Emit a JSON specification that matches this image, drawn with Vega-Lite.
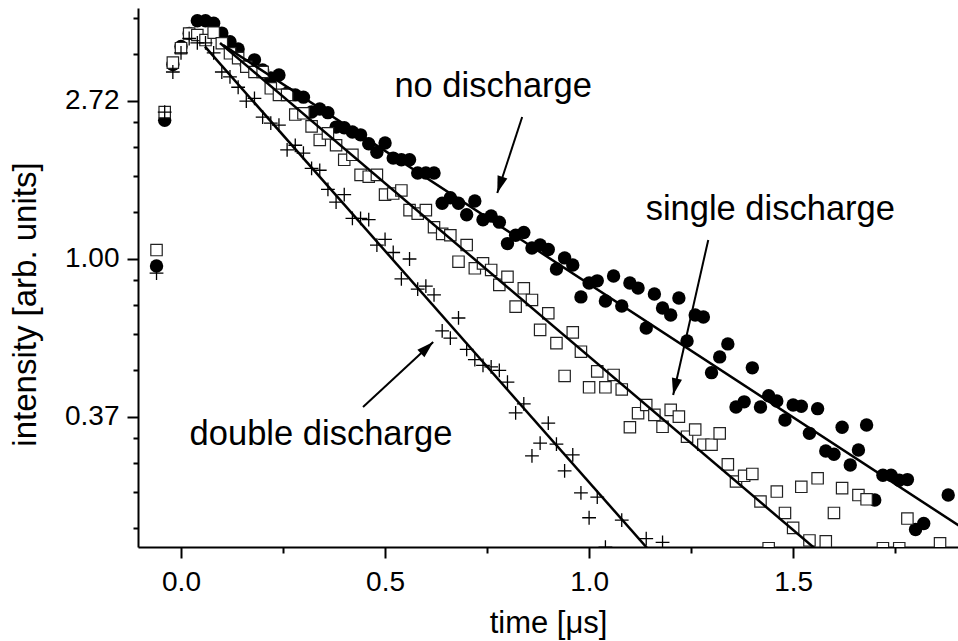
{
  "$schema": "https://vega.github.io/schema/vega-lite/v6.json",
  "width": 820,
  "height": 539,
  "autosize": {"type": "none"},
  "padding": {"left": 138, "top": 8, "right": 0, "bottom": 94},
  "background": "white",
  "config": {"view": {"stroke": null}, "font": "Liberation Sans"},
  "datasets": {
    "points": [
      {"s": "none", "t": -0.06, "I": 0.955}, {"s": "none", "t": -0.04, "I": 2.40}, {"s": "none", "t": -0.02, "I": 3.42},
      {"s": "none", "t": 0.00, "I": 3.83}, {"s": "none", "t": 0.02, "I": 4.16}, {"s": "none", "t": 0.04, "I": 4.51},
      {"s": "none", "t": 0.06, "I": 4.51}, {"s": "none", "t": 0.08, "I": 4.44}, {"s": "none", "t": 0.10, "I": 4.17},
      {"s": "none", "t": 0.12, "I": 3.95}, {"s": "none", "t": 0.14, "I": 3.77}, {"s": "none", "t": 0.16, "I": 3.40},
      {"s": "none", "t": 0.18, "I": 3.52}, {"s": "none", "t": 0.20, "I": 3.30}, {"s": "none", "t": 0.22, "I": 3.14},
      {"s": "none", "t": 0.24, "I": 3.20}, {"s": "none", "t": 0.26, "I": 2.85}, {"s": "none", "t": 0.28, "I": 2.82},
      {"s": "none", "t": 0.30, "I": 2.78}, {"s": "none", "t": 0.32, "I": 2.53}, {"s": "none", "t": 0.34, "I": 2.58},
      {"s": "none", "t": 0.36, "I": 2.52}, {"s": "none", "t": 0.38, "I": 2.30}, {"s": "none", "t": 0.40, "I": 2.29},
      {"s": "none", "t": 0.42, "I": 2.23}, {"s": "none", "t": 0.44, "I": 2.19}, {"s": "none", "t": 0.46, "I": 2.07},
      {"s": "none", "t": 0.48, "I": 1.96}, {"s": "none", "t": 0.50, "I": 2.08}, {"s": "none", "t": 0.52, "I": 1.89},
      {"s": "none", "t": 0.54, "I": 1.87}, {"s": "none", "t": 0.56, "I": 1.87}, {"s": "none", "t": 0.58, "I": 1.72},
      {"s": "none", "t": 0.60, "I": 1.72}, {"s": "none", "t": 0.62, "I": 1.72}, {"s": "none", "t": 0.64, "I": 1.42},
      {"s": "none", "t": 0.66, "I": 1.47}, {"s": "none", "t": 0.68, "I": 1.42}, {"s": "none", "t": 0.70, "I": 1.32},
      {"s": "none", "t": 0.72, "I": 1.44}, {"s": "none", "t": 0.74, "I": 1.28}, {"s": "none", "t": 0.76, "I": 1.31},
      {"s": "none", "t": 0.78, "I": 1.26}, {"s": "none", "t": 0.80, "I": 1.10}, {"s": "none", "t": 0.82, "I": 1.16},
      {"s": "none", "t": 0.84, "I": 1.18}, {"s": "none", "t": 0.86, "I": 1.07}, {"s": "none", "t": 0.88, "I": 1.09},
      {"s": "none", "t": 0.90, "I": 1.06}, {"s": "none", "t": 0.92, "I": 0.937}, {"s": "none", "t": 0.94, "I": 1.005},
      {"s": "none", "t": 0.96, "I": 0.961}, {"s": "none", "t": 0.98, "I": 0.785}, {"s": "none", "t": 1.00, "I": 0.857},
      {"s": "none", "t": 1.02, "I": 0.869}, {"s": "none", "t": 1.04, "I": 0.765}, {"s": "none", "t": 1.06, "I": 0.896},
      {"s": "none", "t": 1.08, "I": 0.741}, {"s": "none", "t": 1.10, "I": 0.857}, {"s": "none", "t": 1.12, "I": 0.830},
      {"s": "none", "t": 1.14, "I": 0.645}, {"s": "none", "t": 1.16, "I": 0.800}, {"s": "none", "t": 1.18, "I": 0.732},
      {"s": "none", "t": 1.20, "I": 0.700}, {"s": "none", "t": 1.22, "I": 0.780}, {"s": "none", "t": 1.24, "I": 0.594},
      {"s": "none", "t": 1.26, "I": 0.700}, {"s": "none", "t": 1.28, "I": 0.691}, {"s": "none", "t": 1.30, "I": 0.486},
      {"s": "none", "t": 1.32, "I": 0.537}, {"s": "none", "t": 1.34, "I": 0.583}, {"s": "none", "t": 1.36, "I": 0.391},
      {"s": "none", "t": 1.38, "I": 0.404}, {"s": "none", "t": 1.40, "I": 0.501}, {"s": "none", "t": 1.42, "I": 0.391},
      {"s": "none", "t": 1.44, "I": 0.420}, {"s": "none", "t": 1.46, "I": 0.406}, {"s": "none", "t": 1.48, "I": 0.360},
      {"s": "none", "t": 1.50, "I": 0.396}, {"s": "none", "t": 1.52, "I": 0.393}, {"s": "none", "t": 1.54, "I": 0.331},
      {"s": "none", "t": 1.56, "I": 0.387}, {"s": "none", "t": 1.58, "I": 0.296}, {"s": "none", "t": 1.60, "I": 0.290},
      {"s": "none", "t": 1.62, "I": 0.344}, {"s": "none", "t": 1.64, "I": 0.271}, {"s": "none", "t": 1.66, "I": 0.298},
      {"s": "none", "t": 1.68, "I": 0.349}, {"s": "none", "t": 1.70, "I": 0.217}, {"s": "none", "t": 1.72, "I": 0.254},
      {"s": "none", "t": 1.74, "I": 0.254}, {"s": "none", "t": 1.76, "I": 0.246}, {"s": "none", "t": 1.78, "I": 0.247},
      {"s": "none", "t": 1.80, "I": 0.180}, {"s": "none", "t": 1.82, "I": 0.187}, {"s": "none", "t": 1.88, "I": 0.224},

      {"s": "single", "t": -0.06, "I": 1.056}, {"s": "single", "t": -0.04, "I": 2.53}, {"s": "single", "t": -0.02, "I": 3.46},
      {"s": "single", "t": 0.00, "I": 3.79}, {"s": "single", "t": 0.02, "I": 4.16}, {"s": "single", "t": 0.04, "I": 4.12},
      {"s": "single", "t": 0.06, "I": 3.99}, {"s": "single", "t": 0.08, "I": 4.18}, {"s": "single", "t": 0.10, "I": 3.91},
      {"s": "single", "t": 0.12, "I": 3.67}, {"s": "single", "t": 0.14, "I": 3.56}, {"s": "single", "t": 0.16, "I": 3.37},
      {"s": "single", "t": 0.18, "I": 3.26}, {"s": "single", "t": 0.20, "I": 3.26}, {"s": "single", "t": 0.22, "I": 2.94},
      {"s": "single", "t": 0.24, "I": 2.82}, {"s": "single", "t": 0.26, "I": 2.82}, {"s": "single", "t": 0.28, "I": 2.49},
      {"s": "single", "t": 0.30, "I": 2.51}, {"s": "single", "t": 0.32, "I": 2.31}, {"s": "single", "t": 0.34, "I": 2.12},
      {"s": "single", "t": 0.36, "I": 2.21}, {"s": "single", "t": 0.38, "I": 2.05}, {"s": "single", "t": 0.40, "I": 1.87},
      {"s": "single", "t": 0.42, "I": 1.93}, {"s": "single", "t": 0.44, "I": 1.70}, {"s": "single", "t": 0.46, "I": 1.68},
      {"s": "single", "t": 0.48, "I": 1.70}, {"s": "single", "t": 0.50, "I": 1.50}, {"s": "single", "t": 0.52, "I": 1.51},
      {"s": "single", "t": 0.54, "I": 1.54}, {"s": "single", "t": 0.56, "I": 1.36}, {"s": "single", "t": 0.58, "I": 1.33},
      {"s": "single", "t": 0.60, "I": 1.36}, {"s": "single", "t": 0.62, "I": 1.22}, {"s": "single", "t": 0.64, "I": 1.17},
      {"s": "single", "t": 0.66, "I": 1.16}, {"s": "single", "t": 0.68, "I": 0.981}, {"s": "single", "t": 0.70, "I": 1.09},
      {"s": "single", "t": 0.72, "I": 0.941}, {"s": "single", "t": 0.74, "I": 0.971}, {"s": "single", "t": 0.76, "I": 0.931},
      {"s": "single", "t": 0.78, "I": 0.847}, {"s": "single", "t": 0.80, "I": 0.892}, {"s": "single", "t": 0.82, "I": 0.738},
      {"s": "single", "t": 0.84, "I": 0.829}, {"s": "single", "t": 0.86, "I": 0.770}, {"s": "single", "t": 0.88, "I": 0.637},
      {"s": "single", "t": 0.90, "I": 0.708}, {"s": "single", "t": 0.92, "I": 0.586}, {"s": "single", "t": 0.94, "I": 0.476},
      {"s": "single", "t": 0.96, "I": 0.627}, {"s": "single", "t": 0.98, "I": 0.555}, {"s": "single", "t": 1.00, "I": 0.443},
      {"s": "single", "t": 1.02, "I": 0.490}, {"s": "single", "t": 1.04, "I": 0.443}, {"s": "single", "t": 1.06, "I": 0.479},
      {"s": "single", "t": 1.08, "I": 0.437}, {"s": "single", "t": 1.10, "I": 0.344}, {"s": "single", "t": 1.12, "I": 0.376},
      {"s": "single", "t": 1.14, "I": 0.396}, {"s": "single", "t": 1.16, "I": 0.372}, {"s": "single", "t": 1.18, "I": 0.345},
      {"s": "single", "t": 1.20, "I": 0.384}, {"s": "single", "t": 1.22, "I": 0.368}, {"s": "single", "t": 1.24, "I": 0.324},
      {"s": "single", "t": 1.26, "I": 0.339}, {"s": "single", "t": 1.28, "I": 0.308}, {"s": "single", "t": 1.30, "I": 0.308},
      {"s": "single", "t": 1.32, "I": 0.331}, {"s": "single", "t": 1.34, "I": 0.272}, {"s": "single", "t": 1.36, "I": 0.244},
      {"s": "single", "t": 1.38, "I": 0.253}, {"s": "single", "t": 1.40, "I": 0.256}, {"s": "single", "t": 1.42, "I": 0.215},
      {"s": "single", "t": 1.44, "I": 0.160}, {"s": "single", "t": 1.46, "I": 0.229}, {"s": "single", "t": 1.48, "I": 0.200},
      {"s": "single", "t": 1.50, "I": 0.182}, {"s": "single", "t": 1.52, "I": 0.236}, {"s": "single", "t": 1.54, "I": 0.168},
      {"s": "single", "t": 1.56, "I": 0.249}, {"s": "single", "t": 1.58, "I": 0.167}, {"s": "single", "t": 1.60, "I": 0.200},
      {"s": "single", "t": 1.62, "I": 0.234}, {"s": "single", "t": 1.66, "I": 0.224}, {"s": "single", "t": 1.68, "I": 0.218},
      {"s": "single", "t": 1.72, "I": 0.160}, {"s": "single", "t": 1.76, "I": 0.160}, {"s": "single", "t": 1.78, "I": 0.193},
      {"s": "single", "t": 1.86, "I": 0.165},

      {"s": "double", "t": -0.06, "I": 0.913}, {"s": "double", "t": -0.04, "I": 2.53}, {"s": "double", "t": -0.02, "I": 3.26},
      {"s": "double", "t": 0.00, "I": 3.68}, {"s": "double", "t": 0.02, "I": 4.03}, {"s": "double", "t": 0.04, "I": 3.92},
      {"s": "double", "t": 0.06, "I": 3.92}, {"s": "double", "t": 0.08, "I": 3.68}, {"s": "double", "t": 0.10, "I": 3.26},
      {"s": "double", "t": 0.12, "I": 3.16}, {"s": "double", "t": 0.14, "I": 2.96}, {"s": "double", "t": 0.16, "I": 2.71},
      {"s": "double", "t": 0.18, "I": 2.76}, {"s": "double", "t": 0.20, "I": 2.45}, {"s": "double", "t": 0.22, "I": 2.36},
      {"s": "double", "t": 0.24, "I": 2.33}, {"s": "double", "t": 0.26, "I": 1.99}, {"s": "double", "t": 0.28, "I": 2.05},
      {"s": "double", "t": 0.30, "I": 1.95}, {"s": "double", "t": 0.32, "I": 1.77}, {"s": "double", "t": 0.34, "I": 1.75},
      {"s": "double", "t": 0.36, "I": 1.55}, {"s": "double", "t": 0.38, "I": 1.43}, {"s": "double", "t": 0.40, "I": 1.50},
      {"s": "double", "t": 0.42, "I": 1.29}, {"s": "double", "t": 0.44, "I": 1.29}, {"s": "double", "t": 0.46, "I": 1.28},
      {"s": "double", "t": 0.48, "I": 1.09}, {"s": "double", "t": 0.50, "I": 1.13}, {"s": "double", "t": 0.52, "I": 1.04},
      {"s": "double", "t": 0.54, "I": 0.880}, {"s": "double", "t": 0.56, "I": 0.998}, {"s": "double", "t": 0.58, "I": 0.825},
      {"s": "double", "t": 0.60, "I": 0.841}, {"s": "double", "t": 0.62, "I": 0.795}, {"s": "double", "t": 0.64, "I": 0.633},
      {"s": "double", "t": 0.66, "I": 0.605}, {"s": "double", "t": 0.68, "I": 0.687}, {"s": "double", "t": 0.70, "I": 0.563},
      {"s": "double", "t": 0.72, "I": 0.528}, {"s": "double", "t": 0.74, "I": 0.509}, {"s": "double", "t": 0.76, "I": 0.504},
      {"s": "double", "t": 0.78, "I": 0.493}, {"s": "double", "t": 0.80, "I": 0.458}, {"s": "double", "t": 0.82, "I": 0.377},
      {"s": "double", "t": 0.84, "I": 0.399}, {"s": "double", "t": 0.86, "I": 0.287}, {"s": "double", "t": 0.88, "I": 0.311},
      {"s": "double", "t": 0.90, "I": 0.353}, {"s": "double", "t": 0.92, "I": 0.309}, {"s": "double", "t": 0.94, "I": 0.261},
      {"s": "double", "t": 0.96, "I": 0.289}, {"s": "double", "t": 0.98, "I": 0.227}, {"s": "double", "t": 1.00, "I": 0.194},
      {"s": "double", "t": 1.02, "I": 0.221}, {"s": "double", "t": 1.04, "I": 0.161}, {"s": "double", "t": 1.08, "I": 0.191},
      {"s": "double", "t": 1.14, "I": 0.170}, {"s": "double", "t": 1.18, "I": 0.166}
    ],
    "fits": [
      {"s": "none", "t": 0.103, "I": 3.867}, {"s": "none", "t": 1.93, "I": 0.1773},
      {"s": "single", "t": 0.0956, "I": 3.916}, {"s": "single", "t": 1.56, "I": 0.1574},
      {"s": "double", "t": 0.0588, "I": 3.826}, {"s": "double", "t": 1.15, "I": 0.1565}
    ],
    "arrows": [
      {"name": "none", "t": 0.836, "I": 2.452, "t2": 0.775, "I2": 1.516},
      {"name": "single", "t": 1.292, "I": 1.126, "t2": 1.206, "I2": 0.422},
      {"name": "double", "t": 0.446, "I": 0.391, "t2": 0.618, "I2": 0.590}
    ],
    "labels": [
      {"label": "no discharge", "t": 0.765, "I": 2.964},
      {"label": "single discharge", "t": 1.444, "I": 1.361},
      {"label": "double discharge", "t": 0.343, "I": 0.3276}
    ]
  },
  "encoding": {
    "x": {
      "field": "t",
      "type": "quantitative",
      "scale": {"domain": [-0.1054, 1.904], "nice": false, "zero": false},
      "axis": {
        "title": "time [μs]",
        "values": [0, 0.25, 0.5, 0.75, 1, 1.25, 1.5, 1.75],
        "labelExpr": "abs(datum.value * 2 - round(datum.value * 2)) < 0.001 ? format(datum.value, '.1f') : ''",
        "labelFont": "Liberation Sans",
        "labelFontSize": 28,
        "labelColor": "black",
        "labelPadding": 10,
        "labelOverlap": false,
        "labelFlush": false,
        "tickSize": {"condition": {"test": "abs(datum.value * 2 - round(datum.value * 2)) < 0.001", "value": 11}, "value": 6},
        "tickWidth": 2,
        "tickColor": "black",
        "domainColor": "black",
        "domainWidth": 2,
        "grid": false,
        "titleFont": "Liberation Sans",
        "titleFontSize": 31,
        "titleFontWeight": "normal",
        "titleColor": "black",
        "titlePadding": 12
      }
    },
    "y": {
      "field": "I",
      "type": "quantitative",
      "scale": {"type": "log", "domain": [0.1612, 4.888], "nice": false},
      "axis": {
        "title": "intensity [arb. units]",
        "values": [0.1818, 0.2284, 0.2749, 0.3214, 0.36788, 0.4943, 0.6207, 0.7471, 0.8736, 1, 1.3437, 1.6873, 2.031, 2.3746, 2.71828, 3.6524, 4.5866],
        "labelExpr": "abs(log(datum.value) - round(log(datum.value))) < 0.001 ? format(datum.value, '.2f') : ''",
        "labelFont": "Liberation Sans",
        "labelFontSize": 28,
        "labelColor": "black",
        "labelPadding": 8,
        "labelOverlap": false,
        "labelFlush": false,
        "tickSize": {"condition": {"test": "abs(log(datum.value) - round(log(datum.value))) < 0.001", "value": 11}, "value": 5},
        "tickWidth": 2,
        "tickColor": "black",
        "domainColor": "black",
        "domainWidth": 2,
        "grid": false,
        "titleFont": "Liberation Sans",
        "titleFontSize": 33,
        "titleFontWeight": "normal",
        "titleColor": "black",
        "titleX": -103,
        "titleY": 296,
        "titleAngle": -90,
        "titleAlign": "center",
        "titleBaseline": "alphabetic"
      }
    }
  },
  "layer": [
    {
      "data": {"name": "points"},
      "transform": [{"filter": "datum.s === 'none'"}],
      "mark": {"type": "point", "shape": "circle", "filled": true, "color": "black", "opacity": 1, "size": 180, "clip": true}
    },
    {
      "data": {"name": "points"},
      "transform": [{"filter": "datum.s === 'single'"}],
      "mark": {"type": "point", "shape": "square", "filled": false, "fill": "white", "fillOpacity": 1, "stroke": "#222222", "strokeWidth": 1.2, "opacity": 1, "size": 130, "clip": true}
    },
    {
      "data": {"name": "points"},
      "transform": [{"filter": "datum.s === 'double'"}],
      "mark": {"type": "point", "shape": "M-1,0L1,0M0,-1L0,1", "filled": false, "stroke": "black", "strokeWidth": 1.3, "opacity": 1, "size": 190, "clip": true}
    },
    {
      "data": {"name": "fits"},
      "mark": {"type": "line", "color": "black", "strokeWidth": 2.5, "clip": true},
      "encoding": {"detail": {"field": "s"}}
    },
    {
      "data": {"name": "arrows"},
      "mark": {"type": "rule", "color": "black", "strokeWidth": 2},
      "encoding": {"x2": {"field": "t2"}, "y2": {"field": "I2"}}
    },
    {
      "data": {"name": "arrows"},
      "transform": [{"filter": "datum.name === 'none'"}],
      "mark": {"type": "point", "shape": "M0,0L-0.55,1.8L0.55,1.8Z", "filled": true, "color": "black", "opacity": 1, "size": 350, "angle": 198},
      "encoding": {"x": {"field": "t2", "type": "quantitative"}, "y": {"field": "I2", "type": "quantitative"}}
    },
    {
      "data": {"name": "arrows"},
      "transform": [{"filter": "datum.name === 'single'"}],
      "mark": {"type": "point", "shape": "M0,0L-0.55,1.8L0.55,1.8Z", "filled": true, "color": "black", "opacity": 1, "size": 350, "angle": 193},
      "encoding": {"x": {"field": "t2", "type": "quantitative"}, "y": {"field": "I2", "type": "quantitative"}}
    },
    {
      "data": {"name": "arrows"},
      "transform": [{"filter": "datum.name === 'double'"}],
      "mark": {"type": "point", "shape": "M0,0L-0.55,1.8L0.55,1.8Z", "filled": true, "color": "black", "opacity": 1, "size": 350, "angle": 47},
      "encoding": {"x": {"field": "t2", "type": "quantitative"}, "y": {"field": "I2", "type": "quantitative"}}
    },
    {
      "data": {"name": "labels"},
      "mark": {"type": "text", "font": "Liberation Sans", "fontSize": 34.5, "color": "black", "align": "center", "baseline": "middle"},
      "encoding": {"text": {"field": "label"}}
    }
  ]
}
